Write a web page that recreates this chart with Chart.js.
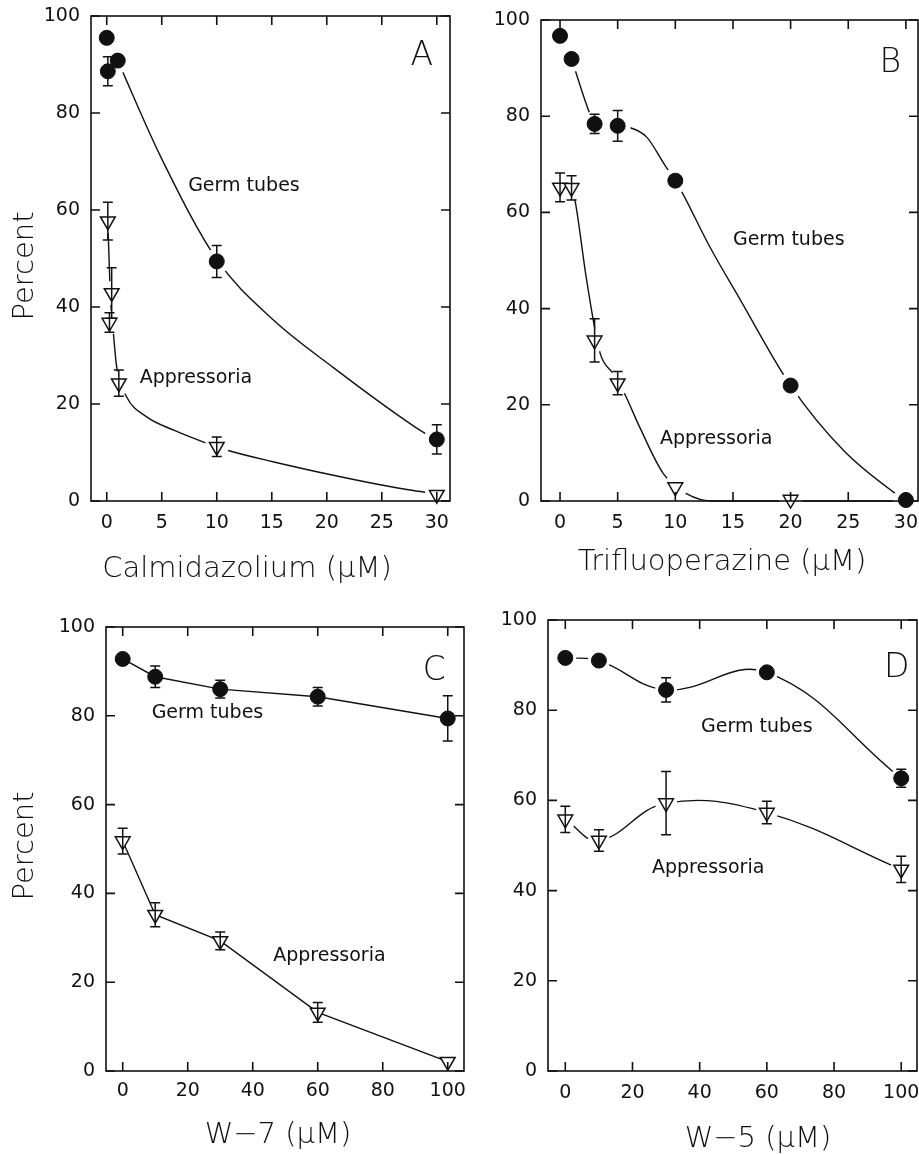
<!DOCTYPE html>
<html><head><meta charset="utf-8">
<script src="https://cdn.jsdelivr.net/npm/chart.js@4.4.1/dist/chart.umd.min.js"></script>
<style>
html,body{margin:0;padding:0;background:#fff;}
body{width:919px;height:1154px;overflow:hidden;position:relative;}
canvas{position:absolute;}
</style></head><body>
<canvas id="cA" width="465" height="585" style="left:0;top:0"></canvas>
<canvas id="cB" width="480" height="585" style="left:460px;top:0"></canvas>
<canvas id="cC" width="480" height="574" style="left:0;top:580px"></canvas>
<canvas id="cD" width="480" height="574" style="left:460px;top:580px"></canvas>
<script>
// ---------- shared tick labels ----------
const yTicks = [0, 20, 40, 60, 80, 100];
const aXTicks = [0, 5, 10, 15, 20, 25, 30];
const bXTicks = [0, 5, 10, 15, 20, 25, 30];
const cXTicks = [0, 20, 40, 60, 80, 100];
const dXTicks = [0, 20, 40, 60, 80, 100];

// ---------- Panel A: Calmidazolium ----------
const aGermX = [0, 0.1, 1, 10, 30];
const aGermY = [95.5, 88.6, 90.8, 49.4, 12.7];
const aGermErr = [0, 3.0, 0, 3.3, 3.0];
const aAppX = [0.1, 0.45, 0.25, 1.1, 10, 30];
const aAppY = [57.7, 42.9, 36.8, 24.3, 11.2, 1.3];
const aAppErr = [3.9, 5.2, 2.0, 2.7, 2.0, 0];
// fitted curves
const aGermCurveX = [1, 4.9, 10, 15.1, 20.6, 28, 30];
const aGermCurveY = [90.8, 71, 49.8, 37.4, 27.5, 15.3, 12.5];
const aAppCurveX = [0.1, 0.3, 0.45, 0.6, 0.9, 1.8, 3.6, 6.1, 9.1, 11.2, 15.1, 20.6, 24.5, 28, 30];
const aAppCurveY = [57.7, 44, 38, 34.6, 27.7, 21.5, 17.4, 14.6, 11.9, 10.3, 8.1, 5.3, 3.5, 2.1, 1.5];

// ---------- Panel B: Trifluoperazine ----------
const bGermX = [0, 1, 3, 5, 10, 20, 30];
const bGermY = [96.7, 91.9, 78.4, 78.0, 66.6, 24.0, 0.2];
const bGermErr = [0, 0, 2.0, 3.2, 0, 0, 0];
const bAppX = [0, 1, 3, 5, 10, 20];
const bAppY = [65.2, 65.1, 33.4, 24.5, 2.9, 0.3];
const bAppErr = [3.0, 2.5, 4.5, 2.4, 0, 0];
const bGermCurveX = [1, 2.6, 3, 5, 6.1, 7.5, 9.1, 10, 10.6, 13.0, 15.5, 20, 24.6, 28.9, 30];
const bGermCurveY = [91.9, 80.4, 78.4, 78.0, 77.6, 75.7, 69.8, 66.6, 64.1, 52.8, 42.4, 24.0, 10.5, 1.9, 0.2];
const bAppCurveX = [1, 1.3, 2.31, 3.47, 4.6, 5.6, 6.9, 8.96, 11, 13.3, 20, 30];
const bAppCurveY = [65.1, 62.5, 45.9, 30.8, 26.5, 22.3, 15.4, 5.7, 1.5, 0, 0, 0];

// ---------- Panel C: W-7 ----------
const cX = [0, 10, 30, 60, 100];
const cGermY = [92.8, 88.8, 86.0, 84.3, 79.4];
const cGermErr = [0, 2.4, 2.0, 2.1, 5.1];
const cAppY = [51.8, 35.2, 29.3, 13.2, 2.1];
const cAppErr = [2.9, 2.7, 2.0, 2.2, 0];

// ---------- Panel D: W-5 ----------
const dX = [0, 10, 30, 60, 100];
const dGermY = [91.6, 91.0, 84.5, 88.4, 64.9];
const dGermErr = [0, 0, 2.7, 1.0, 2.0];
const dAppY = [55.8, 51.1, 59.4, 57.3, 44.7];
const dAppErr = [2.9, 2.4, 7.0, 2.5, 2.9];

// ---------- helpers ----------
const INK = '#111';
const FONT = '"DejaVu Sans", "Liberation Sans", sans-serif';
const pts = (xs, ys) => xs.map((x, i) => ({x: x, y: ys[i]}));

function curve(xs, ys, mode) {
  return { data: pts(xs, ys), showLine: true, borderColor: INK, borderWidth: 1.4,
    pointRadius: 0, fill: false, order: 3, clip: false,
    tension: mode === 'smooth' ? 0.4 : 0,
    cubicInterpolationMode: mode === 'monotone' ? 'monotone' : 'default' };
}
function halo(xs, ys, r) {
  return { data: pts(xs, ys), showLine: false, pointRadius: r, pointBackgroundColor: '#fff',
    pointBorderColor: '#fff', pointBorderWidth: 0, order: 2, clip: false };
}
function circles(xs, ys, err, line) {
  return { data: pts(xs, ys), errorBars: err, showLine: !!line, borderColor: INK, borderWidth: 1.4,
    tension: 0, pointStyle: 'circle', pointRadius: 7.5, pointBackgroundColor: INK,
    pointBorderColor: INK, pointBorderWidth: 1, order: 1, clip: false };
}
function triangles(xs, ys, err, line) {
  return { data: pts(xs, ys), errorBars: err, showLine: !!line, borderColor: INK, borderWidth: 1.4,
    tension: 0, pointStyle: 'triangle', pointRotation: 180, pointRadius: 8.5,
    pointBackgroundColor: '#fff', pointBorderColor: INK, pointBorderWidth: 1.5, order: 1, clip: false };
}

const errorBarPlugin = {
  id: 'errorBars',
  afterDatasetsDraw(chart) {
    const ctx = chart.ctx, xs = chart.scales.x, ys = chart.scales.y;
    ctx.save(); ctx.strokeStyle = INK; ctx.lineWidth = 1.5;
    chart.data.datasets.forEach(ds => {
      if (!ds.errorBars) return;
      ds.data.forEach((p, i) => {
        const e = ds.errorBars[i]; if (!e) return;
        const px = xs.getPixelForValue(p.x);
        const t = ys.getPixelForValue(p.y + e), b = ys.getPixelForValue(p.y - e);
        ctx.beginPath();
        ctx.moveTo(px, t); ctx.lineTo(px, b);
        ctx.moveTo(px - 5, t); ctx.lineTo(px + 5, t);
        ctx.moveTo(px - 5, b); ctx.lineTo(px + 5, b);
        ctx.stroke();
      });
    });
    ctx.restore();
  }
};

const framePlugin = {
  id: 'frame',
  afterDraw(chart) {
    const ctx = chart.ctx, a = chart.chartArea, xs = chart.scales.x, ys = chart.scales.y;
    const L = 9;
    ctx.save(); ctx.strokeStyle = INK; ctx.lineWidth = 1.6;
    ctx.strokeRect(a.left, a.top, a.right - a.left, a.bottom - a.top);
    ctx.beginPath();
    xs.ticks.forEach(t => {
      const p = xs.getPixelForValue(t.value);
      ctx.moveTo(p, a.bottom); ctx.lineTo(p, a.bottom - L);
      ctx.moveTo(p, a.top); ctx.lineTo(p, a.top + L);
    });
    ys.ticks.forEach(t => {
      const p = ys.getPixelForValue(t.value);
      ctx.moveTo(a.left, p); ctx.lineTo(a.left + L, p);
      ctx.moveTo(a.right, p); ctx.lineTo(a.right - L, p);
    });
    ctx.stroke(); ctx.restore();
  }
};

function textPlugin(notes, titles) {
  return {
    id: 'panelText',
    afterDraw(chart) {
      const ctx = chart.ctx, xs = chart.scales.x, ys = chart.scales.y;
      ctx.save(); ctx.fillStyle = INK; ctx.textBaseline = 'alphabetic';
      notes.forEach(n => {
        ctx.font = (n.weight || 400) + ' ' + n.size + 'px ' + FONT;
        ctx.textAlign = 'left';
        ctx.fillText(n.text, xs.getPixelForValue(n.x), ys.getPixelForValue(n.y));
      });
      titles.forEach(t => {
        ctx.font = '200 ' + t.size + 'px ' + FONT;
        ctx.save();
        ctx.translate(t.px, t.py);
        if (t.rotate) ctx.rotate(-Math.PI / 2);
        ctx.textAlign = 'center';
        ctx.fillText(t.text, 0, 0);
        ctx.restore();
      });
      ctx.restore();
    }
  };
}

function makePanel(id, g, datasets, xr, xTicks, xPad, notes, titles) {
  return new Chart(document.getElementById(id), {
    type: 'scatter',
    data: { datasets: datasets },
    options: {
      responsive: false, animation: false, devicePixelRatio: 1, events: [],
      layout: { padding: { top: g.top, right: g.right, left: 0, bottom: 0 } },
      plugins: { legend: { display: false }, tooltip: { enabled: false } },
      scales: {
        x: { type: 'linear', min: xr[0], max: xr[1],
          grid: { display: false, drawTicks: false }, border: { display: false },
          ticks: { font: { family: FONT, size: 19 }, color: INK, padding: xPad, maxRotation: 0, autoSkip: false },
          afterBuildTicks: s => { s.ticks = xTicks.map(v => ({ value: v })); },
          afterFit: s => { s.height = g.xh; s.paddingLeft = 0; s.paddingRight = 0; } },
        y: { type: 'linear', min: 0, max: 100,
          grid: { display: false, drawTicks: false }, border: { display: false },
          ticks: { font: { family: FONT, size: 19 }, color: INK, padding: 11, autoSkip: false },
          afterBuildTicks: s => { s.ticks = yTicks.map(v => ({ value: v })); },
          afterFit: s => { s.width = g.yw; s.paddingTop = 0; s.paddingBottom = 0; } }
      }
    },
    plugins: [framePlugin, errorBarPlugin, textPlugin(notes, titles)]
  });
}

// ---------- build panels ----------
makePanel('cA', { top: 16, right: 15, yw: 91, xh: 84 }, [
  curve(aGermCurveX, aGermCurveY, 'monotone'),
  curve(aAppCurveX, aAppCurveY, 'monotone'),
  halo(aGermX, aGermY, 13), halo(aAppX, aAppY, 12),
  circles(aGermX, aGermY, aGermErr), triangles(aAppX, aAppY, aAppErr)
], [-1.43, 31.2], aXTicks, 11, [
  { text: 'Germ tubes', x: 7.4, y: 63.9, size: 19 },
  { text: 'Appressoria', x: 3.0, y: 24.3, size: 19 },
  { text: 'A', x: 27.6, y: 89.8, size: 33, weight: 200 }
], [
  { text: 'Calmidazolium (μM)', px: 247, py: 577, size: 29 },
  { text: 'Percent', px: 33, py: 266, size: 29, rotate: true }
]);

makePanel('cB', { top: 20, right: 22, yw: 81, xh: 84 }, [
  curve(bGermCurveX, bGermCurveY, 'monotone'),
  curve(bAppCurveX, bAppCurveY, 'monotone'),
  halo(bGermX, bGermY, 13), halo(bAppX, bAppY, 12),
  circles(bGermX, bGermY, bGermErr), triangles(bAppX, bAppY, bAppErr)
], [-1.65, 31.05], bXTicks, 11, [
  { text: 'Germ tubes', x: 15.0, y: 53.2, size: 19 },
  { text: 'Appressoria', x: 8.67, y: 11.9, size: 19 },
  { text: 'B', x: 27.7, y: 89.2, size: 33, weight: 200 }
], [
  { text: 'Trifluoperazine (μM)', px: 262, py: 570, size: 29 }
]);

makePanel('cC', { top: 47, right: 16, yw: 106, xh: 83 }, [
  circles(cX, cGermY, cGermErr, true), triangles(cX, cAppY, cAppErr, true)
], [-5.14, 105], cXTicks, 9, [
  { text: 'Germ tubes', x: 8.9, y: 79.4, size: 19 },
  { text: 'Appressoria', x: 46.3, y: 24.8, size: 19 },
  { text: 'C', x: 92.3, y: 88.1, size: 33, weight: 200 }
], [
  { text: 'W−7 (μM)', px: 278, py: 563, size: 29 },
  { text: 'Percent', px: 33, py: 266, size: 29, rotate: true }
]);

makePanel('cD', { top: 40, right: 23, yw: 88, xh: 83 }, [
  curve(dX, dGermY, 'smooth'), curve(dX, dAppY, 'smooth'),
  halo(dX, dGermY, 11), halo(dX, dAppY, 11),
  circles(dX, dGermY, dGermErr), triangles(dX, dAppY, dAppErr)
], [-5.15, 104.7], dXTicks, 10.5, [
  { text: 'Germ tubes', x: 40.4, y: 75.2, size: 19 },
  { text: 'Appressoria', x: 25.8, y: 44.0, size: 19 },
  { text: 'D', x: 94.9, y: 87.4, size: 33, weight: 200 }
], [
  { text: 'W−5 (μM)', px: 298, py: 567, size: 29 }
]);
</script>
</body></html>
